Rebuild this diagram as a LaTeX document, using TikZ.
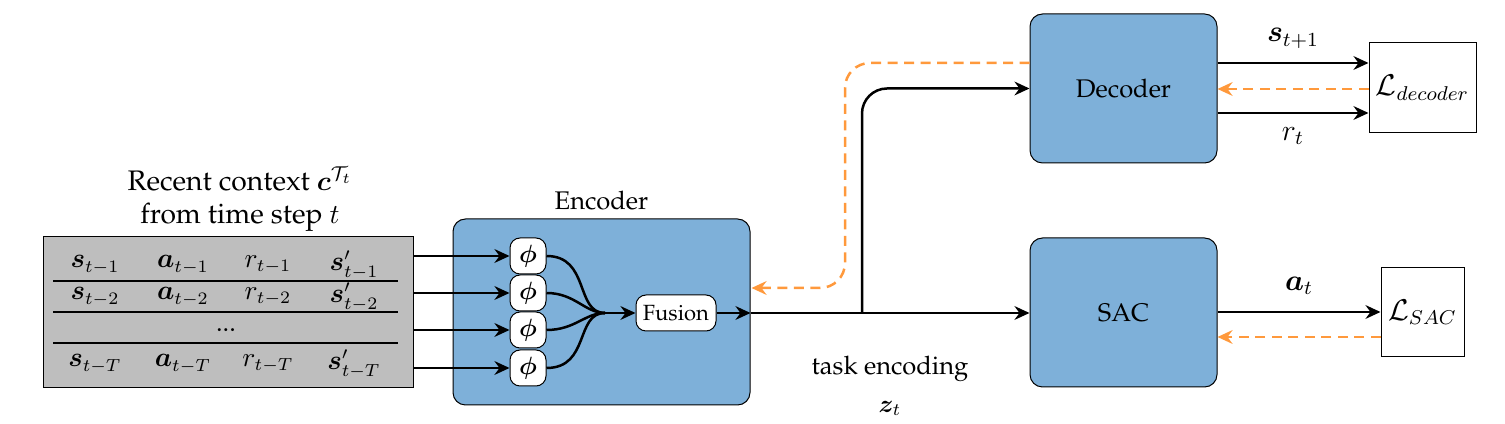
\documentclass[tikz,border=0pt]{standalone}
\usepackage[T1]{fontenc}
\renewcommand{\rmdefault}{ppl}
\usepackage{amsmath,bm}
\usetikzlibrary{arrows.meta,calc}
\definecolor{blk}{RGB}{126,176,217}
\definecolor{org}{RGB}{255,153,60}
\definecolor{ctxgray}{RGB}{190,190,190}
\begin{document}
\begin{tikzpicture}[x=0.4pt,y=-0.4pt,
  blockbox/.style={draw=black,fill=blk,rounded corners=5pt,inner sep=0pt,font=\fontsize{10.2}{12}\selectfont},
  phibox/.style={draw=black,fill=white,rounded corners=4pt,minimum width=14.4pt,minimum height=14.4pt,inner sep=0pt},
  lossbox/.style={draw=black,fill=white,inner sep=0pt,font=\large},
  lbl/.style={font=\large},
  arr/.style={-{Stealth[length=6pt,width=5.5pt,inset=2pt]},line width=1pt},
  fb/.style={-{Stealth[length=6pt,width=5.5pt,inset=2pt]},line width=1pt,draw=org,dash pattern=on 4pt off 2.6pt},
  cell/.style={inner sep=0pt,font=\fontsize{10.5}{12}\selectfont}]
\useasboundingbox (0,0) rectangle (1505,424);
% context
\node[draw=black,fill=ctxgray,minimum width=147.6pt,minimum height=60.4pt,inner sep=0pt] (ctx) at (228.5,312.5) {};
\node[align=center,font=\fontsize{11.3}{14}\selectfont] (ctxtitle) at (240,199) {Recent context $\bm{c}^{\mathcal{T}_t}$\\[-1pt]from time step $t$};
\foreach \y/\k in {265/1,297/2}{
  \node[cell] at (95,\y) {$\bm{s}_{t-\k}$};
  \node[cell] at (183,\y) {$\bm{a}_{t-\k}$};
  \node[cell] at (268,\y) {$r_{t-\k}$};
  \node[cell] at (354,\y) {$\bm{s}'_{t-\k}$};
}
\node[cell] at (226,330) {...};
\node[cell] at (95,364) {$\bm{s}_{t-T}$};
\node[cell] at (183,364) {$\bm{a}_{t-T}$};
\node[cell] at (268,364) {$r_{t-T}$};
\node[cell] at (354,364) {$\bm{s}'_{t-T}$};
\foreach \y in {281,312,343}{\draw[line width=0.6pt] (53,\y) -- (398,\y);}
% encoder
\node[blockbox,minimum width=118.8pt,minimum height=74.4pt] (enc) at (601.5,312) {};
\node[font=\fontsize{10.2}{12}\selectfont] (enctitle) at (601.5,201) {Encoder};
\node[phibox] (p1) at (528,256) {$\bm{\phi}$};
\node[phibox] (p2) at (528,293) {$\bm{\phi}$};
\node[phibox] (p3) at (528,330) {$\bm{\phi}$};
\node[phibox] (p4) at (528,368) {$\bm{\phi}$};
\node[phibox,minimum width=32pt,font=\fontsize{8.8}{10}\selectfont] (fus) at (676,313) {Fusion};
\foreach \p in {p1,p2,p3,p4}{\draw[arr] (ctx.east|-\p) -- (\p.west);}
\coordinate (mg) at (605,313);
\draw[line width=1pt] (p1.east) .. controls (590,256) and (575,313) .. (mg);
\draw[line width=1pt] (p2.east) .. controls (575,293) and (585,313) .. (mg);
\draw[line width=1pt] (p3.east) .. controls (575,330) and (585,313) .. (mg);
\draw[line width=1pt] (p4.east) .. controls (590,368) and (575,313) .. (mg);
\draw[arr] (mg) -- (fus.west);
\coordinate (encout) at (enc.east|-fus);
\draw[arr] (fus.east) -- (encout);
% decoder, SAC
\node[blockbox,minimum width=74.8pt,minimum height=59.6pt] (dec) at (1123.5,88.5) {Decoder};
\node[blockbox,minimum width=74.8pt,minimum height=59.6pt] (sac) at (1123.5,312.5) {SAC};
\node[lossbox,minimum width=42.8pt,minimum height=36pt] (ldec) at (1422.5,88) {$\mathcal{L}_{decoder}$};
\node[lossbox,minimum width=33.2pt,minimum height=35.6pt] (lsac) at (1422.5,312.5) {$\mathcal{L}_{SAC}$};
\draw[arr] (encout) -- (sac.west|-encout);
\coordinate (br) at (862,313);
\draw[arr,rounded corners=10pt] (br) |- (dec.west);
\node[font=\fontsize{10.2}{12}\selectfont,align=center] (te) at (890,386) {task encoding\\[3pt]$\bm{z}_t$};
% feedback
\draw[fb,rounded corners=10pt] (dec.west|-0,63) -- (845,63) -- (845,288) -- ($(enc.east|-0,288)+(1,0)$);
\draw[arr] (dec.east|-0,63) -- node[lbl,above=2pt] {$\bm{s}_{t+1}$} (ldec.west|-0,63);
\draw[arr] (dec.east|-0,113) -- node[lbl,below=2pt] {$r_t$} (ldec.west|-0,113);
\draw[fb] (ldec.west|-0,89) -- (dec.east|-0,89);
\draw[arr] (sac.east|-0,312) -- node[lbl,above=3pt] {$\bm{a}_t$} (lsac.west|-0,312);
\draw[fb] (lsac.west|-0,337) -- (sac.east|-0,337);
\end{tikzpicture}
\end{document}
